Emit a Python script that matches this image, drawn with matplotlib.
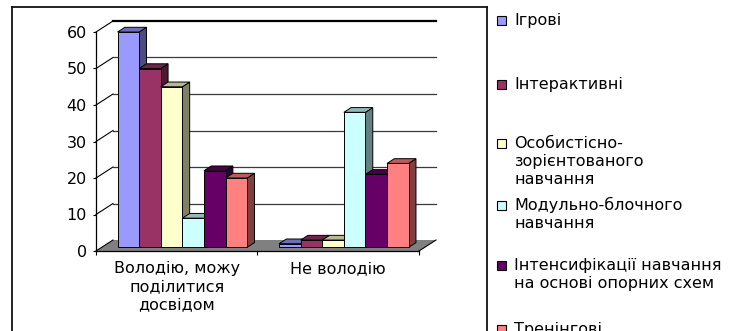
import matplotlib
matplotlib.use("Agg")
import matplotlib.pyplot as plt
from matplotlib.patches import Polygon, Rectangle
from matplotlib.lines import Line2D
import numpy as np

plt.rcParams['font.family'] = ['DejaVu Sans']

# ---- data -------------------------------------------------------------
categories = ["Володію, можу\nподілитися\nдосвідом", "Не володію"]
series_names = [
    "Ігрові",
    "Інтерактивні",
    "Особистісно-\nзорієнтованого\nнавчання",
    "Модульно-блочного\nнавчання",
    "Інтенсифікації навчання\nна основі опорних схем",
    "Тренінгові",
]
igrovi = [59, 1]
interaktyvni = [49, 2]
osobystisno = [44, 2]
modulno_blochni = [8, 37]
intensyfikatsii = [21, 20]
treningovi = [19, 23]
y_ticks = [0, 10, 20, 30, 40, 50, 60]

series_values = [igrovi, interaktyvni, osobystisno,
                 modulno_blochni, intensyfikatsii, treningovi]
colors = ["#9999FF", "#993366", "#FFFFCC", "#CCFFFF", "#660066", "#FF8080"]

FS = 11.5

# ---- figure / axes ----------------------------------------------------
W, H = 730, 331
fig = plt.figure(figsize=(W / 100, H / 100), dpi=100)
fig.patch.set_facecolor("white")

x_left, x_right = 96, 440      # pixel span of the axes box
y_top, y_bottom = 15, 251
px_per_cat = 161.5
px_per_val = 3.65
ax = fig.add_axes([x_left / W, 1 - y_bottom / H,
                   (x_right - x_left) / W, (y_bottom - y_top) / H])
ax.set_xlim(0, (x_right - x_left) / px_per_cat)
ax.set_ylim(0, (y_bottom - y_top) / px_per_val)
ax.patch.set_visible(False)

# oblique depth of the 3-D box, in data units
DX = 17 / px_per_cat
DY = 11 / px_per_val
n_cat = len(categories)

# floor
ax.add_patch(Polygon([(0, 0), (n_cat, 0), (n_cat + DX, DY), (DX, DY)],
                     closed=True, facecolor="#808080", edgecolor="none",
                     zorder=1, clip_on=False))
ax.plot([n_cat, n_cat + DX], [0, DY], color="black", lw=0.8, zorder=2,
        clip_on=False)

# wall gridlines
for v in y_ticks:
    top = v == y_ticks[-1]
    ax.plot([0, DX], [v, v + DY], color="black", lw=0.8, zorder=2,
            clip_on=False)
    if v > 0:
        ax.plot([DX, n_cat + DX], [v + DY, v + DY],
                color="black" if top else "#3a3a3a",
                lw=1.6 if top else 0.9, zorder=2, clip_on=False)


def shade(hex_color, k):
    rgb = np.array(matplotlib.colors.to_rgb(hex_color))
    return tuple(rgb * k)


# bars
n_ser = len(series_values)
bar_w = 21.6 / px_per_cat
gap = (1 - n_ser * bar_w) / 2
f_front = 0.33          # depth fraction of the bars' front face
f_depth = 0.43          # depth of the bars themselves
bdx, bdy = f_depth * DX, f_depth * DY
for g in range(n_cat):
    for i, vals in enumerate(series_values):
        v = vals[g]
        x0 = g + gap + i * bar_w + f_front * DX
        b = f_front * DY
        t = v + b
        x1 = x0 + bar_w
        c = colors[i]
        side = [(x1, b), (x1 + bdx, b + bdy), (x1 + bdx, t + bdy), (x1, t)]
        topf = [(x0, t), (x1, t), (x1 + bdx, t + bdy), (x0 + bdx, t + bdy)]
        front = [(x0, b), (x1, b), (x1, t), (x0, t)]
        for pts, k in ((side, 0.5), (topf, 0.72), (front, 1.0)):
            ax.add_patch(Polygon(pts, closed=True, facecolor=shade(c, k),
                                 edgecolor="black", lw=0.7, zorder=3,
                                 clip_on=False))

# axes lines, ticks and labels
for s in ("top", "right"):
    ax.spines[s].set_visible(False)
ax.spines["left"].set_bounds(0, y_ticks[-1])
ax.spines["bottom"].set_bounds(0, n_cat)
ax.spines["left"].set_zorder(4)
ax.spines["bottom"].set_zorder(4)
for s in ("left", "bottom"):
    ax.spines[s].set_linewidth(0.9)

ax.set_yticks(y_ticks)
ax.set_yticklabels([str(v) for v in y_ticks], fontsize=FS)
ax.tick_params(axis="y", length=2.5, width=0.8, pad=4)

ax.set_xticks(range(n_cat + 1))
ax.set_xticklabels([""] * (n_cat + 1))
ax.set_xticks([g + 0.5 for g in range(n_cat)], minor=True)
ax.set_xticklabels(categories, minor=True, fontsize=FS, linespacing=1.25,
                   va="top")
ax.tick_params(axis="x", which="major", length=3, width=0.8)
ax.tick_params(axis="x", which="minor", length=0, pad=7)

# legend
leg_first = [20.5, 84, 143, 205, 265, 329]
line_step = 18.5
for name, c, y in zip(series_names, colors, leg_first):
    fig.add_artist(Rectangle((497 / W, 1 - (y + 4.5) / H), 9 / W, 9 / H,
                             transform=fig.transFigure, facecolor=c,
                             edgecolor="black", lw=0.8))
    for j, line in enumerate(name.split("\n")):
        fig.text(514 / W, 1 - (y + j * line_step) / H, line,
                 fontsize=FS, va="center", ha="left")

# frame lines
frame = dict(transform=fig.transFigure, color="#111111", lw=1.3)
fig.add_artist(Line2D([12 / W, 12 / W], [1 - 7 / H, 0], **frame))
fig.add_artist(Line2D([12 / W, 487 / W], [1 - 7 / H, 1 - 7 / H], **frame))
fig.add_artist(Line2D([487 / W, 487 / W], [1 - 7 / H, 0], **frame))

fig.savefig("out.png", dpi=100, facecolor="white")
